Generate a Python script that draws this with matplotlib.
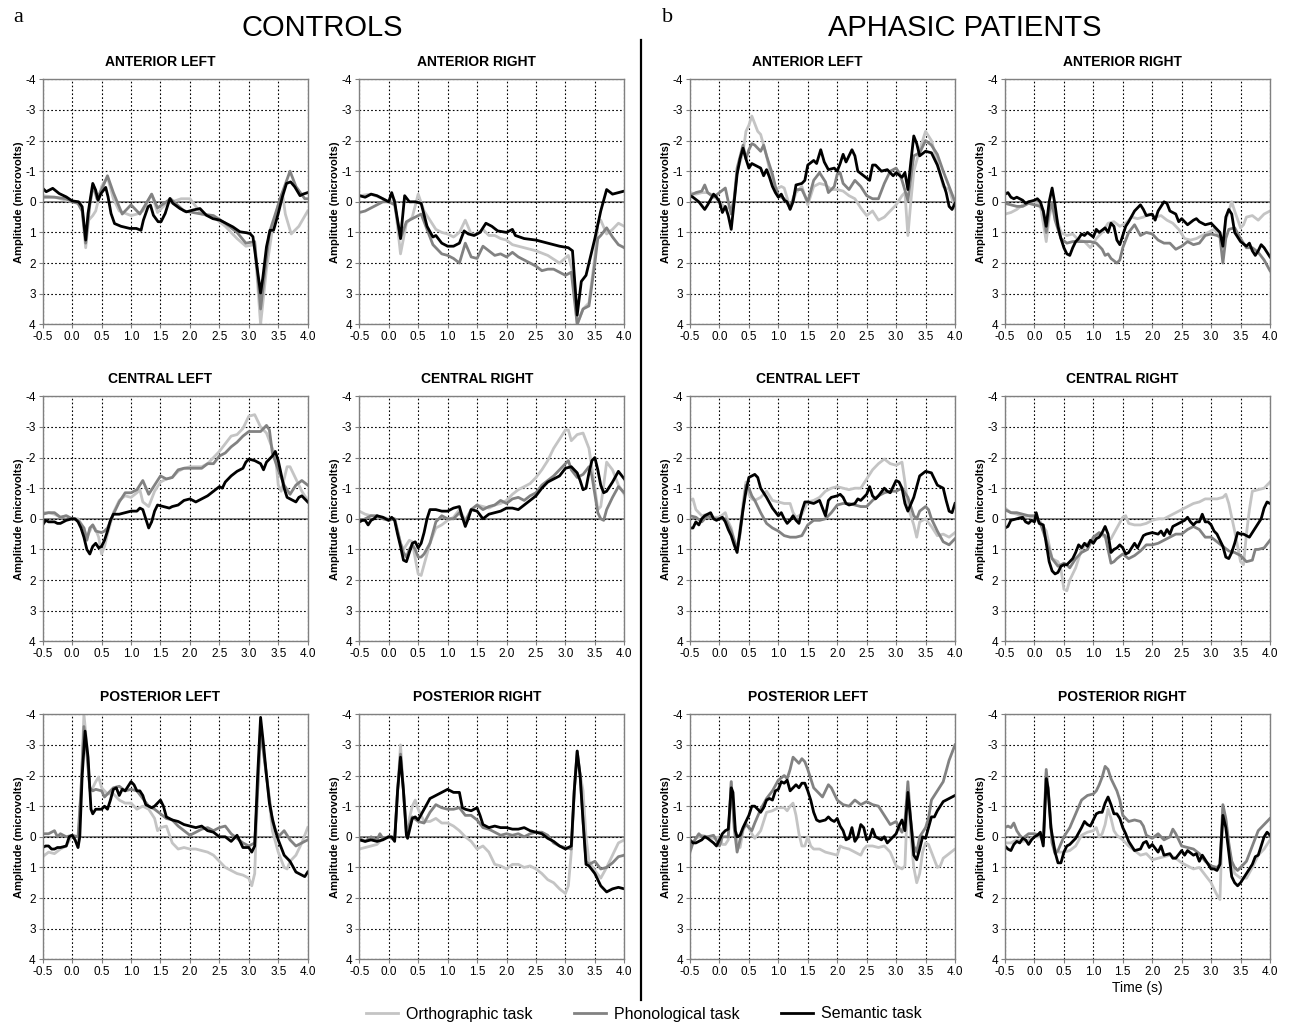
import matplotlib.pyplot as plt
from matplotlib.lines import Line2D

plt.rcParams['font.family'] = ['Liberation Sans', 'DejaVu Sans']

# --- data: (time s, amplitude uV) ---
# Controls, anterior left
c_al_orth = [(-0.5,-0.2),(-0.3,-0.15),(-0.1,-0.05),(0.0,0.0),(0.1,0.05),(0.17,0.3),(0.23,1.5),(0.28,0.6),(0.35,0.45),(0.4,0.3),(0.5,-0.5),(0.6,-0.8),(0.7,-0.1),(0.8,0.3),(1.0,0.45),(1.1,0.4),(1.2,0.3),(1.35,-0.25),(1.45,0.35),(1.6,0.05),(1.7,0.0),(1.85,-0.1),(2.0,-0.1),(2.2,0.4),(2.4,0.5),(2.6,0.8),(2.8,1.2),(2.95,1.45),(3.1,1.4),(3.2,4.0),(3.3,2.2),(3.4,0.9),(3.5,0.1),(3.57,-0.3),(3.62,0.4),(3.72,1.05),(3.85,0.8),(4.0,0.3)]
c_al_phon = [(-0.5,-0.15),(-0.3,-0.15),(-0.1,-0.1),(0.0,0.0),(0.1,0.05),(0.17,0.3),(0.23,1.35),(0.3,0.1),(0.36,-0.55),(0.42,-0.1),(0.5,-0.4),(0.6,-0.85),(0.7,-0.3),(0.85,0.4),(1.0,0.1),(1.15,0.4),(1.35,-0.25),(1.45,0.2),(1.6,0.0),(1.67,-0.1),(1.9,0.3),(2.2,0.4),(2.4,0.45),(2.6,0.7),(2.8,1.0),(2.95,1.35),(3.1,1.3),(3.2,3.5),(3.35,1.0),(3.55,-0.2),(3.7,-1.0),(3.8,-0.5),(3.95,-0.1),(4.0,-0.1)]
c_al_sem = [(-0.5,-0.44),(-0.44,-0.33),(-0.33,-0.44),(-0.22,-0.27),(-0.1,-0.16),(0.0,-0.03),(0.11,0.0),(0.17,0.16),(0.23,1.25),(0.27,0.38),(0.31,-0.11),(0.35,-0.6),(0.4,-0.38),(0.44,-0.05),(0.49,-0.27),(0.57,-0.47),(0.61,-0.16),(0.66,0.38),(0.72,0.71),(0.83,0.8),(0.98,0.87),(1.09,0.87),(1.17,0.93),(1.21,0.6),(1.29,0.16),(1.33,0.11),(1.38,0.44),(1.46,0.65),(1.51,0.65),(1.58,0.38),(1.66,-0.11),(1.71,0.05),(1.83,0.22),(1.94,0.33),(2.05,0.27),(2.17,0.22),(2.28,0.44),(2.39,0.55),(2.51,0.6),(2.62,0.71),(2.73,0.82),(2.85,0.98),(2.96,1.01),(3.02,1.04),(3.07,1.14),(3.13,2.0),(3.2,2.98),(3.24,2.45),(3.3,1.47),(3.36,0.93),(3.42,0.93),(3.5,0.38),(3.57,-0.16),(3.64,-0.6),(3.71,-0.65),(3.78,-0.49),(3.87,-0.2),(3.92,-0.25),(4.0,-0.3)]

# Controls, anterior right
c_ar_orth = [(-0.5,-0.2),(-0.3,-0.25),(-0.1,-0.1),(0.0,0.0),(0.1,-0.05),(0.2,1.7),(0.3,0.7),(0.4,0.5),(0.5,-0.25),(0.6,0.3),(0.7,0.6),(0.8,0.9),(0.9,1.0),(1.0,1.05),(1.1,1.15),(1.2,1.0),(1.3,0.6),(1.4,1.05),(1.5,1.05),(1.6,0.9),(1.7,1.1),(1.8,1.1),(1.9,1.2),(2.0,1.25),(2.1,1.4),(2.2,1.45),(2.3,1.5),(2.5,1.6),(2.7,1.75),(2.9,2.0),(3.05,1.75),(3.15,2.5),(3.2,4.0),(3.3,3.5),(3.4,3.3),(3.5,1.8),(3.55,0.7),(3.6,0.6),(3.7,1.05),(3.8,0.9),(3.9,0.7),(4.0,0.8)]
c_ar_phon = [(-0.5,0.35),(-0.4,0.3),(-0.3,0.2),(-0.2,0.1),(-0.1,0.0),(0.0,0.0),(0.1,0.1),(0.2,1.2),(0.3,0.65),(0.4,0.55),(0.5,0.45),(0.55,0.4),(0.65,0.9),(0.75,1.4),(0.9,1.7),(1.0,1.75),(1.1,1.85),(1.2,2.0),(1.3,1.35),(1.4,1.8),(1.5,1.85),(1.6,1.45),(1.7,1.6),(1.8,1.75),(1.9,1.7),(2.0,1.8),(2.1,1.65),(2.2,1.8),(2.4,2.0),(2.5,2.1),(2.6,2.25),(2.7,2.2),(2.8,2.2),(2.9,2.3),(3.0,2.4),(3.1,2.3),(3.2,4.0),(3.3,3.5),(3.4,3.4),(3.5,2.0),(3.55,1.2),(3.6,1.1),(3.7,0.85),(3.8,1.15),(3.9,1.4),(4.0,1.5)]
c_ar_sem = [(-0.5,-0.2),(-0.4,-0.15),(-0.3,-0.25),(-0.2,-0.2),(-0.1,-0.1),(0.0,0.0),(0.05,-0.3),(0.1,0.0),(0.2,1.2),(0.27,-0.2),(0.35,0.0),(0.45,0.0),(0.55,0.05),(0.65,0.8),(0.75,1.15),(0.8,1.1),(0.9,1.35),(1.0,1.45),(1.1,1.45),(1.2,1.35),(1.28,0.95),(1.35,1.05),(1.45,1.1),(1.55,1.0),(1.65,0.7),(1.75,0.8),(1.85,0.95),(2.0,1.0),(2.1,0.9),(2.15,1.1),(2.3,1.2),(2.5,1.25),(2.7,1.35),(2.9,1.45),(3.05,1.5),(3.12,1.6),(3.2,3.7),(3.27,2.6),(3.35,2.4),(3.5,1.2),(3.6,0.3),(3.7,-0.4),(3.8,-0.25),(3.9,-0.3),(4.0,-0.35)]

# Aphasic patients, anterior left
p_al_orth = [(-0.5,-0.3),(-0.4,-0.25),(-0.3,-0.3),(-0.2,-0.3),(-0.1,-0.2),(0.0,0.0),(0.1,0.2),(0.2,0.2),(0.25,0.0),(0.3,-1.0),(0.4,-1.6),(0.45,-2.3),(0.5,-2.5),(0.55,-2.8),(0.6,-2.55),(0.65,-2.3),(0.7,-2.2),(0.8,-1.5),(0.9,-0.6),(0.95,-0.4),(1.05,-0.5),(1.1,-0.45),(1.2,0.2),(1.25,0.0),(1.3,-0.3),(1.4,-0.5),(1.5,0.1),(1.6,-0.5),(1.7,-0.6),(1.8,-0.55),(1.9,-0.4),(2.0,-0.4),(2.1,-0.35),(2.2,-0.2),(2.3,-0.1),(2.4,0.2),(2.5,0.45),(2.6,0.3),(2.7,0.6),(2.8,0.5),(2.9,0.3),(3.0,0.1),(3.1,-0.2),(3.15,-0.3),(3.2,1.1),(3.25,0.0),(3.3,-1.0),(3.4,-1.7),(3.5,-2.3),(3.6,-2.0),(3.7,-1.3),(3.8,-0.5),(3.9,-0.4),(4.0,0.2)]
p_al_phon = [(-0.5,-0.2),(-0.4,-0.3),(-0.3,-0.35),(-0.25,-0.55),(-0.2,-0.3),(-0.1,-0.15),(0.0,-0.3),(0.1,-0.45),(0.15,0.0),(0.2,0.4),(0.25,-0.1),(0.3,-1.1),(0.4,-1.85),(0.45,-1.4),(0.5,-1.7),(0.55,-1.9),(0.6,-1.85),(0.7,-1.65),(0.75,-1.85),(0.8,-1.5),(0.9,-0.9),(0.95,-0.5),(1.0,-0.2),(1.1,-0.1),(1.2,0.2),(1.3,-0.4),(1.4,-0.4),(1.5,0.0),(1.6,-0.7),(1.7,-0.95),(1.8,-0.65),(1.85,-0.3),(1.95,-0.5),(2.0,-0.9),(2.05,-0.95),(2.1,-0.6),(2.2,-0.4),(2.3,-0.7),(2.4,-0.5),(2.5,-0.2),(2.6,-0.1),(2.7,-0.1),(2.8,-0.6),(2.9,-1.0),(3.0,-1.1),(3.05,-0.95),(3.1,-0.7),(3.2,-0.05),(3.25,-0.8),(3.3,-1.5),(3.4,-1.6),(3.5,-2.0),(3.6,-1.85),(3.7,-1.55),(3.8,-1.0),(3.9,-0.5),(4.0,0.0)]
p_al_sem = [(-0.5,-0.2),(-0.45,-0.15),(-0.35,0.0),(-0.25,0.25),(-0.2,0.1),(-0.1,-0.25),(-0.05,-0.15),(0.0,0.0),(0.05,0.35),(0.1,0.15),(0.15,0.45),(0.2,0.9),(0.25,0.0),(0.3,-0.9),(0.35,-1.4),(0.4,-1.75),(0.45,-1.4),(0.5,-1.1),(0.55,-1.25),(0.6,-1.2),(0.7,-1.1),(0.75,-0.85),(0.8,-1.05),(0.85,-0.8),(0.9,-0.5),(0.95,-0.3),(1.0,-0.15),(1.05,-0.25),(1.1,-0.05),(1.15,0.0),(1.2,0.25),(1.25,0.0),(1.3,-0.55),(1.4,-0.6),(1.45,-0.7),(1.5,-1.2),(1.6,-1.35),(1.65,-1.25),(1.72,-1.7),(1.78,-1.3),(1.85,-1.05),(1.95,-1.1),(2.0,-1.0),(2.05,-1.25),(2.1,-1.55),(2.15,-1.3),(2.25,-1.7),(2.3,-1.5),(2.35,-1.0),(2.45,-0.85),(2.55,-0.7),(2.6,-1.2),(2.65,-1.2),(2.75,-1.0),(2.85,-1.05),(2.95,-0.85),(3.0,-0.95),(3.1,-0.8),(3.15,-0.95),(3.2,-0.4),(3.25,-1.3),(3.3,-2.15),(3.35,-1.9),(3.4,-1.5),(3.5,-1.65),(3.6,-1.6),(3.7,-1.2),(3.8,-0.6),(3.85,-0.3),(3.9,0.15),(3.95,0.25),(4.0,0.05)]

# Aphasic patients, anterior right
p_ar_orth = [(-0.5,0.4),(-0.4,0.35),(-0.3,0.25),(-0.2,0.1),(-0.1,0.0),(0.0,0.0),(0.1,0.1),(0.2,1.3),(0.25,0.5),(0.3,0.1),(0.35,0.4),(0.45,1.0),(0.55,1.1),(0.65,1.05),(0.75,1.25),(0.85,1.3),(0.95,1.5),(1.05,1.2),(1.15,1.0),(1.25,0.7),(1.35,0.65),(1.45,0.8),(1.55,0.7),(1.65,0.5),(1.75,0.55),(1.85,0.5),(1.95,0.4),(2.05,0.5),(2.15,0.45),(2.25,0.6),(2.35,0.7),(2.45,0.9),(2.55,1.2),(2.65,1.25),(2.75,1.2),(2.85,1.1),(2.95,1.0),(3.05,0.9),(3.15,1.1),(3.2,1.5),(3.25,0.6),(3.3,0.3),(3.35,0.0),(3.4,0.3),(3.5,0.85),(3.55,0.75),(3.6,0.5),(3.7,0.45),(3.8,0.6),(3.9,0.4),(4.0,0.3)]
p_ar_phon = [(-0.5,0.05),(-0.4,0.1),(-0.3,0.15),(-0.2,0.15),(-0.1,0.05),(0.0,0.1),(0.1,0.15),(0.15,0.3),(0.2,1.0),(0.25,0.3),(0.3,0.05),(0.35,0.6),(0.45,1.2),(0.55,1.35),(0.65,1.3),(0.75,1.3),(0.85,1.3),(0.95,1.3),(1.05,1.35),(1.15,1.55),(1.2,1.75),(1.25,1.7),(1.3,1.85),(1.4,2.0),(1.45,1.9),(1.5,1.5),(1.6,1.0),(1.7,0.75),(1.8,1.1),(1.9,1.0),(2.0,1.05),(2.1,1.25),(2.2,1.35),(2.3,1.35),(2.4,1.55),(2.5,1.45),(2.6,1.3),(2.7,1.4),(2.8,1.35),(2.9,1.1),(3.0,1.05),(3.1,1.1),(3.15,1.15),(3.2,2.0),(3.25,1.2),(3.3,0.9),(3.4,0.85),(3.5,1.2),(3.6,1.5),(3.7,1.5),(3.8,1.65),(3.9,1.9),(4.0,2.25)]
p_ar_sem = [(-0.5,-0.25),(-0.45,-0.3),(-0.4,-0.15),(-0.35,-0.1),(-0.3,-0.15),(-0.2,-0.05),(-0.15,0.05),(-0.1,0.0),(0.0,-0.05),(0.05,-0.1),(0.1,0.0),(0.15,0.3),(0.2,0.8),(0.25,0.0),(0.3,-0.45),(0.35,0.1),(0.4,0.8),(0.45,1.2),(0.5,1.5),(0.55,1.7),(0.6,1.75),(0.65,1.5),(0.7,1.3),(0.75,1.2),(0.8,1.05),(0.85,1.1),(0.9,1.0),(1.0,1.15),(1.05,0.9),(1.1,1.0),(1.2,0.85),(1.25,1.0),(1.3,0.7),(1.35,0.8),(1.4,1.25),(1.45,1.4),(1.5,1.1),(1.55,0.8),(1.6,0.65),(1.7,0.3),(1.8,0.1),(1.85,0.25),(1.9,0.45),(2.0,0.4),(2.05,0.6),(2.1,0.3),(2.2,0.0),(2.25,0.05),(2.3,0.3),(2.4,0.4),(2.45,0.65),(2.5,0.55),(2.6,0.75),(2.7,0.6),(2.75,0.55),(2.8,0.65),(2.9,0.75),(3.0,0.7),(3.05,0.8),(3.1,0.9),(3.15,1.0),(3.2,1.45),(3.25,0.5),(3.3,0.25),(3.35,0.4),(3.4,1.0),(3.5,1.3),(3.6,1.45),(3.65,1.35),(3.7,1.6),(3.75,1.75),(3.8,1.6),(3.85,1.4),(3.9,1.5),(4.0,1.8)]

# Controls, central left
c_cl_orth = [(-0.5,-0.2),(-0.4,-0.2),(-0.3,-0.15),(-0.2,-0.05),(-0.1,-0.1),(0.0,0.0),(0.1,0.0),(0.2,0.3),(0.25,0.6),(0.3,0.4),(0.35,0.2),(0.4,0.35),(0.45,0.6),(0.5,1.15),(0.55,0.9),(0.6,0.5),(0.7,-0.2),(0.8,-0.6),(0.9,-0.75),(1.0,-0.7),(1.1,-0.85),(1.15,-0.95),(1.2,-0.55),(1.3,-0.4),(1.4,-0.9),(1.5,-1.2),(1.6,-1.3),(1.7,-1.35),(1.8,-1.55),(1.9,-1.65),(2.0,-1.7),(2.2,-1.7),(2.3,-1.8),(2.4,-2.0),(2.5,-2.2),(2.6,-2.45),(2.7,-2.7),(2.8,-2.75),(2.9,-2.95),(3.0,-3.35),(3.1,-3.4),(3.2,-3.0),(3.3,-2.8),(3.4,-2.3),(3.45,-2.1),(3.5,-1.1),(3.55,-0.9),(3.6,-1.3),(3.65,-1.7),(3.7,-1.7),(3.8,-1.3),(3.9,-0.9),(4.0,-0.6)]
c_cl_phon = [(-0.5,-0.15),(-0.4,-0.2),(-0.3,-0.2),(-0.2,-0.05),(-0.1,-0.1),(0.0,0.0),(0.1,0.05),(0.2,0.3),(0.25,0.7),(0.3,0.3),(0.35,0.2),(0.4,0.4),(0.5,0.45),(0.55,0.4),(0.6,0.3),(0.7,-0.15),(0.8,-0.55),(0.9,-0.85),(1.0,-0.85),(1.1,-0.95),(1.2,-1.25),(1.3,-0.8),(1.4,-1.1),(1.5,-1.4),(1.6,-1.3),(1.7,-1.35),(1.8,-1.6),(1.9,-1.65),(2.0,-1.65),(2.2,-1.65),(2.3,-1.8),(2.4,-1.8),(2.5,-2.05),(2.6,-2.15),(2.7,-2.35),(2.8,-2.5),(2.9,-2.7),(3.0,-2.85),(3.1,-2.85),(3.2,-2.85),(3.3,-3.05),(3.35,-2.9),(3.4,-2.15),(3.5,-1.6),(3.6,-1.1),(3.7,-0.8),(3.8,-1.1),(3.9,-1.25),(4.0,-1.1)]
c_cl_sem = [(-0.5,0.2),(-0.45,0.05),(-0.4,0.1),(-0.3,0.1),(-0.25,0.15),(-0.2,0.15),(-0.1,0.05),(0.0,0.0),(0.05,0.0),(0.1,0.1),(0.15,0.3),(0.2,0.6),(0.25,1.0),(0.3,1.15),(0.35,0.9),(0.4,0.8),(0.45,0.95),(0.5,0.9),(0.55,0.7),(0.6,0.4),(0.65,0.05),(0.7,-0.15),(0.8,-0.15),(0.9,-0.2),(1.0,-0.25),(1.1,-0.25),(1.15,-0.35),(1.2,-0.3),(1.25,0.0),(1.3,0.3),(1.35,0.1),(1.4,-0.25),(1.45,-0.45),(1.55,-0.4),(1.65,-0.35),(1.7,-0.4),(1.8,-0.45),(1.9,-0.6),(2.0,-0.65),(2.1,-0.55),(2.2,-0.65),(2.3,-0.75),(2.4,-0.9),(2.5,-1.05),(2.55,-1.0),(2.6,-1.2),(2.7,-1.4),(2.8,-1.55),(2.9,-1.65),(2.95,-1.85),(3.0,-1.95),(3.1,-1.9),(3.15,-1.85),(3.2,-1.8),(3.25,-1.6),(3.3,-1.85),(3.4,-2.05),(3.45,-2.2),(3.5,-1.9),(3.6,-1.0),(3.65,-0.7),(3.75,-0.6),(3.8,-0.55),(3.85,-0.7),(3.9,-0.75),(4.0,-0.55)]

# Controls, central right
c_cr_orth = [(-0.5,-0.25),(-0.4,-0.15),(-0.3,-0.1),(-0.2,-0.05),(-0.1,-0.05),(0.0,0.0),(0.1,0.0),(0.2,0.8),(0.25,1.0),(0.3,0.85),(0.35,0.7),(0.4,0.75),(0.45,1.3),(0.5,1.8),(0.55,1.85),(0.6,1.5),(0.7,0.8),(0.8,0.3),(0.9,0.2),(1.0,0.05),(1.1,-0.05),(1.2,-0.3),(1.3,0.05),(1.4,-0.3),(1.5,-0.45),(1.6,-0.4),(1.7,-0.35),(1.8,-0.45),(1.9,-0.5),(2.0,-0.6),(2.1,-0.8),(2.2,-0.95),(2.3,-1.05),(2.4,-1.15),(2.5,-1.35),(2.6,-1.6),(2.7,-1.9),(2.8,-2.3),(2.9,-2.6),(3.0,-2.9),(3.05,-2.9),(3.1,-2.55),(3.2,-2.75),(3.3,-2.8),(3.4,-2.3),(3.5,-1.0),(3.55,-0.3),(3.6,-0.4),(3.65,-1.1),(3.7,-1.85),(3.8,-1.6),(3.9,-1.1),(4.0,-0.8)]
c_cr_phon = [(-0.5,0.1),(-0.4,0.0),(-0.3,-0.1),(-0.2,-0.1),(-0.1,0.0),(0.0,0.05),(0.1,0.0),(0.2,0.8),(0.25,1.1),(0.3,1.25),(0.35,1.0),(0.4,0.85),(0.45,1.0),(0.5,1.25),(0.55,1.25),(0.6,1.15),(0.7,0.8),(0.8,0.1),(0.9,-0.1),(1.0,0.0),(1.1,0.0),(1.2,-0.2),(1.3,0.1),(1.4,-0.3),(1.5,-0.45),(1.6,-0.3),(1.7,-0.4),(1.8,-0.45),(1.9,-0.6),(2.0,-0.5),(2.1,-0.65),(2.2,-0.7),(2.3,-0.6),(2.4,-0.75),(2.5,-0.85),(2.6,-1.1),(2.7,-1.25),(2.8,-1.4),(2.9,-1.6),(3.0,-1.8),(3.05,-1.9),(3.1,-1.6),(3.2,-1.35),(3.3,-1.45),(3.4,-1.7),(3.45,-1.4),(3.5,-0.8),(3.55,-0.2),(3.6,0.0),(3.65,0.05),(3.7,-0.3),(3.8,-0.7),(3.9,-1.05),(4.0,-0.85)]
c_cr_sem = [(-0.5,0.1),(-0.45,0.05),(-0.4,0.05),(-0.35,0.2),(-0.3,0.05),(-0.25,0.0),(-0.2,-0.1),(-0.1,-0.05),(0.0,0.05),(0.05,-0.05),(0.1,0.05),(0.15,0.5),(0.2,0.9),(0.25,1.35),(0.3,1.4),(0.35,1.1),(0.4,0.8),(0.45,0.75),(0.5,0.95),(0.55,0.8),(0.6,0.45),(0.65,0.0),(0.7,-0.3),(0.8,-0.3),(0.9,-0.25),(1.0,-0.25),(1.1,-0.35),(1.2,-0.4),(1.25,-0.05),(1.3,0.25),(1.35,0.0),(1.4,-0.3),(1.5,-0.25),(1.6,0.0),(1.7,-0.15),(1.8,-0.2),(1.9,-0.25),(2.0,-0.35),(2.1,-0.35),(2.2,-0.3),(2.3,-0.45),(2.4,-0.6),(2.5,-0.75),(2.6,-1.0),(2.7,-1.2),(2.8,-1.3),(2.9,-1.4),(3.0,-1.65),(3.1,-1.7),(3.2,-1.5),(3.25,-1.25),(3.3,-0.95),(3.35,-1.0),(3.4,-1.5),(3.45,-1.9),(3.5,-2.0),(3.55,-1.6),(3.6,-1.1),(3.65,-0.85),(3.7,-0.9),(3.8,-1.2),(3.9,-1.55),(4.0,-1.3)]

# Aphasic patients, central left
p_cl_orth = [(-0.5,-0.6),(-0.45,-0.65),(-0.4,-0.3),(-0.3,-0.1),(-0.2,-0.15),(-0.1,-0.05),(0.0,-0.05),(0.1,-0.2),(0.15,0.1),(0.2,0.3),(0.25,0.7),(0.3,1.0),(0.35,0.3),(0.4,-0.5),(0.45,-1.2),(0.5,-0.8),(0.55,-0.65),(0.6,-0.6),(0.7,-0.7),(0.8,-0.9),(0.9,-0.6),(1.0,-0.55),(1.1,-0.5),(1.2,-0.5),(1.25,-0.2),(1.3,-0.05),(1.4,-0.15),(1.5,-0.55),(1.6,-0.6),(1.7,-0.7),(1.8,-0.9),(1.9,-1.0),(2.0,-1.05),(2.1,-1.0),(2.2,-0.95),(2.3,-1.0),(2.4,-1.0),(2.5,-1.3),(2.6,-1.6),(2.7,-1.8),(2.8,-1.95),(2.9,-1.8),(3.0,-1.75),(3.1,-1.85),(3.15,-1.2),(3.2,-0.4),(3.3,0.2),(3.35,0.6),(3.4,0.1),(3.5,0.0),(3.6,0.25),(3.7,0.55),(3.8,0.5),(3.9,0.6),(4.0,0.45)]
p_cl_phon = [(-0.5,-0.1),(-0.4,-0.05),(-0.3,0.1),(-0.2,-0.1),(-0.1,0.0),(0.0,0.0),(0.1,0.0),(0.2,0.4),(0.3,1.0),(0.35,0.5),(0.4,-0.3),(0.45,-1.1),(0.5,-1.0),(0.55,-0.75),(0.6,-0.6),(0.7,-0.2),(0.8,0.15),(0.9,0.3),(1.0,0.4),(1.1,0.55),(1.2,0.6),(1.3,0.6),(1.4,0.55),(1.5,0.2),(1.6,0.05),(1.7,0.05),(1.8,0.0),(1.9,-0.2),(2.0,-0.45),(2.1,-0.5),(2.2,-0.5),(2.3,-0.45),(2.4,-0.4),(2.5,-0.4),(2.6,-0.6),(2.7,-0.75),(2.8,-0.85),(2.9,-0.9),(3.0,-0.9),(3.1,-1.0),(3.2,-0.7),(3.3,-0.1),(3.35,0.0),(3.4,-0.25),(3.5,-0.4),(3.55,-0.3),(3.6,0.0),(3.7,0.4),(3.8,0.75),(3.9,0.85),(4.0,0.65)]
p_cl_sem = [(-0.5,0.3),(-0.45,0.3),(-0.4,0.1),(-0.35,0.2),(-0.3,0.0),(-0.25,-0.1),(-0.2,-0.15),(-0.15,-0.2),(-0.1,0.0),(-0.05,0.05),(0.0,0.0),(0.05,-0.05),(0.1,0.1),(0.15,0.35),(0.2,0.55),(0.25,0.85),(0.3,1.1),(0.35,0.4),(0.4,-0.3),(0.45,-0.9),(0.5,-1.35),(0.55,-1.4),(0.6,-1.45),(0.65,-1.35),(0.7,-1.0),(0.8,-0.7),(0.9,-0.35),(1.0,-0.1),(1.05,-0.2),(1.1,0.0),(1.15,0.15),(1.2,0.05),(1.25,-0.1),(1.3,0.05),(1.35,0.15),(1.4,-0.25),(1.45,-0.55),(1.5,-0.55),(1.6,-0.5),(1.7,-0.6),(1.75,-0.35),(1.8,-0.1),(1.85,-0.6),(1.9,-0.7),(2.0,-0.75),(2.05,-0.8),(2.1,-0.7),(2.15,-0.5),(2.2,-0.45),(2.3,-0.5),(2.35,-0.65),(2.4,-0.6),(2.5,-0.8),(2.55,-1.05),(2.6,-0.75),(2.65,-0.65),(2.7,-0.75),(2.8,-1.0),(2.85,-0.9),(2.9,-0.85),(3.0,-1.25),(3.05,-1.2),(3.1,-1.0),(3.15,-0.5),(3.2,-0.25),(3.3,-0.7),(3.4,-1.4),(3.5,-1.55),(3.6,-1.5),(3.7,-1.1),(3.8,-1.0),(3.85,-0.6),(3.9,-0.25),(3.95,-0.2),(4.0,-0.5)]

# Aphasic patients, central right
p_cr_orth = [(-0.5,-0.35),(-0.4,-0.2),(-0.3,-0.15),(-0.2,-0.05),(-0.1,-0.1),(0.0,0.0),(0.1,0.1),(0.2,0.4),(0.3,1.3),(0.4,1.4),(0.45,1.65),(0.5,2.3),(0.55,2.35),(0.6,2.0),(0.7,1.6),(0.8,1.0),(0.9,0.8),(1.0,0.7),(1.1,0.5),(1.2,0.6),(1.3,0.65),(1.4,0.3),(1.5,-0.05),(1.55,-0.1),(1.6,0.15),(1.7,0.2),(1.8,0.2),(1.9,0.15),(2.0,0.05),(2.1,0.0),(2.2,0.0),(2.3,-0.1),(2.4,-0.2),(2.5,-0.3),(2.6,-0.4),(2.7,-0.5),(2.8,-0.55),(2.9,-0.65),(3.0,-0.65),(3.1,-0.65),(3.2,-0.7),(3.25,-0.8),(3.3,-0.5),(3.4,0.4),(3.5,1.4),(3.55,1.5),(3.6,0.5),(3.65,-0.3),(3.7,-0.9),(3.8,-0.95),(3.9,-1.0),(4.0,-1.2)]
p_cr_phon = [(-0.5,-0.3),(-0.4,-0.2),(-0.3,-0.2),(-0.2,-0.15),(-0.1,-0.1),(0.0,-0.1),(0.1,0.15),(0.2,0.7),(0.3,1.3),(0.4,1.55),(0.5,1.45),(0.55,1.5),(0.6,1.6),(0.7,1.3),(0.8,1.1),(0.9,1.0),(1.0,0.6),(1.1,0.45),(1.2,0.55),(1.3,1.45),(1.35,1.4),(1.4,1.3),(1.5,1.15),(1.6,1.3),(1.7,1.2),(1.8,1.05),(1.9,0.85),(2.0,0.85),(2.1,0.8),(2.2,0.7),(2.3,0.6),(2.4,0.5),(2.5,0.5),(2.6,0.35),(2.7,0.25),(2.8,0.35),(2.9,0.6),(3.0,0.6),(3.1,0.75),(3.2,0.9),(3.3,1.05),(3.4,1.1),(3.5,1.2),(3.6,1.4),(3.7,1.35),(3.75,1.0),(3.8,1.0),(3.9,0.95),(4.0,0.7)]
p_cr_sem = [(-0.5,0.3),(-0.45,0.25),(-0.4,0.05),(-0.3,0.0),(-0.2,-0.05),(-0.15,0.1),(-0.1,0.15),(-0.05,0.05),(0.0,0.1),(0.03,-0.2),(0.08,0.15),(0.15,0.2),(0.2,0.8),(0.25,1.4),(0.3,1.7),(0.35,1.8),(0.4,1.75),(0.45,1.55),(0.5,1.5),(0.55,1.5),(0.6,1.4),(0.65,1.3),(0.7,1.1),(0.75,0.85),(0.8,0.95),(0.85,0.8),(0.9,0.9),(0.95,0.7),(1.0,0.8),(1.05,0.65),(1.1,0.6),(1.15,0.45),(1.2,0.25),(1.25,0.5),(1.3,1.1),(1.35,1.0),(1.4,0.95),(1.45,0.85),(1.5,0.95),(1.55,1.15),(1.6,1.1),(1.65,0.95),(1.7,0.8),(1.75,0.95),(1.8,0.75),(1.85,0.55),(1.9,0.5),(2.0,0.45),(2.1,0.5),(2.15,0.4),(2.2,0.55),(2.25,0.35),(2.3,0.5),(2.35,0.25),(2.4,0.2),(2.5,0.1),(2.55,0.05),(2.6,-0.05),(2.65,0.1),(2.7,0.2),(2.75,0.1),(2.8,0.1),(2.85,-0.15),(2.9,0.1),(2.95,0.1),(3.0,0.2),(3.05,0.4),(3.1,0.5),(3.15,0.7),(3.2,0.9),(3.25,1.25),(3.3,1.3),(3.35,1.1),(3.4,0.8),(3.45,0.45),(3.5,0.5),(3.55,0.5),(3.6,0.55),(3.65,0.6),(3.7,0.45),(3.75,0.3),(3.8,0.15),(3.85,0.0),(3.9,-0.35),(3.95,-0.55),(4.0,-0.5)]

# Controls, posterior left
c_pl_orth = [(-0.5,0.65),(-0.4,0.5),(-0.3,0.55),(-0.2,0.4),(-0.1,0.3),(0.0,-0.05),(0.05,0.1),(0.1,0.35),(0.15,-1.5),(0.2,-4.0),(0.25,-3.0),(0.3,-1.5),(0.35,-1.6),(0.4,-1.8),(0.45,-1.95),(0.5,-1.6),(0.6,-1.4),(0.7,-1.4),(0.8,-1.2),(0.9,-1.1),(1.0,-1.1),(1.1,-0.9),(1.2,-1.0),(1.3,-0.9),(1.4,-0.6),(1.45,-0.2),(1.5,-0.3),(1.6,-0.35),(1.7,0.2),(1.8,0.4),(1.9,0.35),(2.0,0.4),(2.1,0.4),(2.2,0.45),(2.3,0.5),(2.4,0.6),(2.5,0.8),(2.6,1.0),(2.7,1.1),(2.8,1.2),(2.9,1.25),(3.0,1.35),(3.05,1.6),(3.1,1.2),(3.15,-1.5),(3.2,-3.5),(3.3,-2.0),(3.4,-0.2),(3.5,0.5),(3.6,1.0),(3.65,1.05),(3.7,0.8),(3.8,0.6),(3.9,0.2),(4.0,-0.3)]
c_pl_phon = [(-0.5,-0.1),(-0.4,-0.1),(-0.3,-0.2),(-0.25,0.0),(-0.2,-0.1),(-0.1,0.0),(0.0,-0.05),(0.1,0.0),(0.15,-1.5),(0.2,-3.6),(0.25,-2.7),(0.3,-1.6),(0.35,-1.5),(0.4,-1.55),(0.5,-1.5),(0.55,-1.3),(0.6,-1.4),(0.7,-1.6),(0.8,-1.65),(0.9,-1.5),(1.0,-1.55),(1.1,-1.5),(1.2,-1.25),(1.3,-1.0),(1.4,-0.9),(1.5,-0.75),(1.6,-0.6),(1.7,-0.55),(1.8,-0.35),(1.9,-0.2),(2.0,-0.05),(2.1,-0.15),(2.2,-0.25),(2.3,-0.3),(2.4,-0.2),(2.5,-0.3),(2.6,-0.35),(2.7,-0.1),(2.8,0.05),(2.9,0.2),(3.0,0.3),(3.1,0.2),(3.15,-1.5),(3.2,-3.5),(3.3,-2.0),(3.4,-0.5),(3.5,0.0),(3.55,-0.1),(3.6,-0.2),(3.7,0.1),(3.8,0.3),(3.9,0.2),(4.0,0.1)]
c_pl_sem = [(-0.5,0.35),(-0.45,0.3),(-0.4,0.3),(-0.35,0.4),(-0.3,0.4),(-0.25,0.35),(-0.2,0.35),(-0.1,0.3),(-0.05,0.0),(0.0,-0.05),(0.05,0.1),(0.1,0.35),(0.13,0.0),(0.17,-2.0),(0.22,-3.45),(0.27,-2.6),(0.32,-0.9),(0.35,-0.75),(0.4,-0.9),(0.5,-0.9),(0.55,-1.0),(0.6,-0.9),(0.65,-1.2),(0.7,-1.55),(0.75,-1.6),(0.8,-1.35),(0.85,-1.55),(0.9,-1.5),(0.95,-1.65),(1.0,-1.8),(1.05,-1.7),(1.1,-1.5),(1.15,-1.5),(1.2,-1.35),(1.25,-1.05),(1.3,-1.0),(1.35,-0.95),(1.4,-1.0),(1.5,-1.2),(1.55,-1.0),(1.6,-0.65),(1.7,-0.55),(1.8,-0.5),(1.9,-0.4),(2.0,-0.35),(2.1,-0.3),(2.2,-0.35),(2.3,-0.2),(2.4,-0.15),(2.5,0.0),(2.6,0.0),(2.7,0.15),(2.8,-0.05),(2.9,0.35),(3.0,0.35),(3.05,0.5),(3.1,0.3),(3.15,-2.0),(3.2,-3.9),(3.25,-3.0),(3.3,-2.0),(3.35,-1.1),(3.4,-0.6),(3.45,-0.2),(3.5,0.1),(3.6,0.6),(3.7,0.8),(3.8,1.15),(3.9,1.25),(3.95,1.3),(4.0,1.15)]

# Controls, posterior right
c_pr_orth = [(-0.5,0.4),(-0.4,0.35),(-0.3,0.3),(-0.2,0.25),(-0.1,0.05),(0.0,0.0),(0.1,0.1),(0.15,-1.5),(0.2,-3.0),(0.25,-1.5),(0.3,-0.2),(0.35,-0.6),(0.4,-1.0),(0.45,-1.2),(0.5,-0.9),(0.6,-0.5),(0.7,-0.5),(0.8,-0.6),(0.9,-0.45),(1.0,-0.45),(1.1,-0.35),(1.2,-0.2),(1.3,0.0),(1.4,0.15),(1.5,0.4),(1.6,0.3),(1.7,0.5),(1.8,0.9),(1.9,0.95),(2.0,1.05),(2.1,0.9),(2.2,0.9),(2.3,1.0),(2.4,0.95),(2.5,1.05),(2.6,1.2),(2.7,1.4),(2.8,1.5),(2.9,1.7),(3.0,1.85),(3.05,1.6),(3.1,0.5),(3.15,-1.5),(3.2,-2.6),(3.3,-1.5),(3.35,0.0),(3.4,0.8),(3.5,1.1),(3.6,1.35),(3.7,1.0),(3.8,0.6),(3.9,0.2),(4.0,0.1)]
c_pr_phon = [(-0.5,0.05),(-0.4,0.15),(-0.3,0.0),(-0.2,0.1),(-0.15,-0.1),(-0.1,0.05),(0.0,0.0),(0.1,0.1),(0.15,-1.5),(0.2,-2.7),(0.25,-1.5),(0.3,-0.1),(0.35,-0.4),(0.4,-0.65),(0.5,-0.5),(0.6,-0.45),(0.7,-0.8),(0.8,-1.05),(0.9,-0.95),(1.0,-0.9),(1.1,-0.9),(1.2,-0.95),(1.3,-0.7),(1.4,-0.7),(1.5,-0.55),(1.6,-0.3),(1.7,-0.25),(1.8,-0.15),(1.9,-0.05),(2.0,-0.1),(2.1,-0.05),(2.2,-0.1),(2.3,0.0),(2.4,-0.1),(2.5,-0.15),(2.6,-0.15),(2.7,-0.05),(2.8,0.2),(2.9,0.3),(3.0,0.35),(3.1,0.4),(3.15,-1.5),(3.2,-2.8),(3.25,-2.0),(3.3,-0.5),(3.35,0.8),(3.4,0.9),(3.5,0.8),(3.6,1.05),(3.7,1.0),(3.8,0.85),(3.9,0.65),(4.0,0.6)]
c_pr_sem = [(-0.5,0.1),(-0.4,0.15),(-0.3,0.1),(-0.2,0.15),(-0.1,0.1),(0.0,0.0),(0.05,0.0),(0.1,0.15),(0.15,-1.5),(0.2,-2.6),(0.25,-1.5),(0.3,-0.05),(0.32,0.05),(0.4,-0.6),(0.45,-0.65),(0.5,-0.55),(0.6,-0.9),(0.7,-1.25),(0.8,-1.35),(0.9,-1.45),(1.0,-1.55),(1.1,-1.45),(1.2,-1.45),(1.25,-0.95),(1.3,-0.9),(1.4,-0.85),(1.5,-0.95),(1.55,-0.7),(1.6,-0.4),(1.7,-0.3),(1.8,-0.35),(1.9,-0.3),(2.0,-0.3),(2.1,-0.25),(2.2,-0.25),(2.3,-0.3),(2.4,-0.2),(2.5,-0.15),(2.6,-0.1),(2.7,0.05),(2.8,0.15),(2.9,0.3),(3.0,0.4),(3.1,0.3),(3.15,-1.5),(3.2,-2.8),(3.25,-2.0),(3.3,-0.5),(3.35,0.9),(3.4,0.95),(3.5,1.2),(3.6,1.6),(3.7,1.8),(3.8,1.7),(3.9,1.65),(4.0,1.7)]

# Aphasic patients, posterior left
p_pl_orth = [(-0.5,0.4),(-0.45,0.2),(-0.4,0.05),(-0.3,-0.05),(-0.2,0.0),(-0.1,0.05),(0.0,0.0),(0.05,0.25),(0.1,0.25),(0.15,0.1),(0.2,-1.8),(0.25,-0.5),(0.3,0.2),(0.35,0.35),(0.4,-0.2),(0.45,-0.45),(0.5,-0.3),(0.55,-0.1),(0.6,0.05),(0.7,-0.2),(0.8,-0.8),(0.9,-0.85),(1.0,-0.95),(1.1,-0.95),(1.15,-0.85),(1.2,-1.0),(1.25,-1.1),(1.3,-0.7),(1.35,-0.1),(1.4,0.3),(1.45,0.3),(1.5,0.0),(1.55,0.3),(1.6,0.4),(1.7,0.4),(1.8,0.5),(1.9,0.55),(2.0,0.6),(2.05,0.3),(2.1,0.35),(2.2,0.4),(2.3,0.5),(2.4,0.6),(2.45,0.4),(2.5,0.3),(2.6,0.3),(2.7,0.35),(2.8,0.3),(2.9,0.5),(3.0,0.95),(3.1,1.05),(3.15,0.95),(3.2,-1.5),(3.25,0.0),(3.3,1.0),(3.35,1.5),(3.4,1.2),(3.45,0.5),(3.5,0.2),(3.55,0.25),(3.6,0.5),(3.7,1.0),(3.75,0.95),(3.8,0.7),(3.9,0.55),(4.0,0.4)]
p_pl_phon = [(-0.5,0.5),(-0.45,0.2),(-0.4,0.05),(-0.35,-0.1),(-0.3,0.0),(-0.2,0.0),(-0.1,-0.05),(0.0,0.3),(0.05,0.0),(0.1,0.0),(0.15,0.0),(0.2,-1.8),(0.25,-0.3),(0.3,0.5),(0.35,0.1),(0.4,-0.25),(0.45,-0.4),(0.5,-0.3),(0.55,-0.2),(0.6,-0.45),(0.7,-0.9),(0.8,-1.25),(0.9,-1.5),(1.0,-1.85),(1.1,-2.0),(1.15,-1.9),(1.2,-2.2),(1.25,-2.6),(1.3,-2.5),(1.35,-2.4),(1.4,-2.55),(1.45,-2.45),(1.5,-2.2),(1.6,-1.6),(1.7,-1.4),(1.75,-1.3),(1.8,-1.5),(1.85,-1.7),(1.9,-1.6),(2.0,-1.2),(2.1,-1.05),(2.2,-1.0),(2.3,-1.2),(2.4,-1.05),(2.5,-1.15),(2.6,-1.05),(2.7,-1.0),(2.8,-0.7),(2.9,-0.4),(3.0,-0.5),(3.05,-0.3),(3.1,-0.15),(3.15,-0.5),(3.2,-1.8),(3.25,-0.5),(3.3,0.3),(3.35,0.5),(3.4,0.0),(3.5,-0.3),(3.55,-0.6),(3.6,-1.2),(3.7,-1.5),(3.8,-1.8),(3.9,-2.5),(4.0,-3.0)]
p_pl_sem = [(-0.5,0.1),(-0.45,0.2),(-0.4,0.2),(-0.3,0.1),(-0.25,0.0),(-0.2,0.05),(-0.1,0.2),(-0.05,0.3),(0.0,0.1),(0.05,-0.1),(0.1,-0.2),(0.15,-0.25),(0.2,-1.6),(0.23,-1.45),(0.27,-0.2),(0.3,0.0),(0.35,-0.05),(0.4,-0.3),(0.5,-0.7),(0.55,-1.0),(0.6,-1.0),(0.7,-0.8),(0.75,-0.95),(0.8,-1.2),(0.85,-1.25),(0.9,-1.2),(0.95,-1.5),(1.0,-1.55),(1.05,-1.8),(1.1,-1.75),(1.15,-1.85),(1.2,-1.5),(1.25,-1.6),(1.3,-1.7),(1.35,-1.6),(1.4,-1.75),(1.45,-1.75),(1.5,-1.5),(1.55,-1.2),(1.6,-0.8),(1.65,-0.55),(1.7,-0.5),(1.8,-0.55),(1.85,-0.65),(1.9,-0.55),(1.95,-0.5),(2.0,-0.6),(2.05,-0.35),(2.1,-0.2),(2.15,0.1),(2.2,0.05),(2.25,-0.3),(2.3,0.15),(2.35,0.0),(2.4,-0.4),(2.45,-0.3),(2.5,0.1),(2.55,0.05),(2.6,-0.25),(2.65,0.0),(2.7,0.05),(2.75,0.1),(2.8,0.0),(2.85,0.2),(2.9,0.1),(3.0,-0.1),(3.05,-0.35),(3.1,-0.55),(3.15,-0.2),(3.2,-1.45),(3.25,-0.5),(3.3,0.6),(3.35,0.75),(3.4,0.4),(3.45,0.0),(3.5,0.05),(3.55,-0.3),(3.6,-0.65),(3.65,-0.65),(3.7,-0.85),(3.8,-1.15),(3.9,-1.25),(4.0,-1.35)]

# Aphasic patients, posterior right
p_pr_orth = [(-0.5,0.2),(-0.4,0.2),(-0.3,0.1),(-0.2,0.15),(-0.1,0.1),(0.0,0.0),(0.1,0.0),(0.15,0.1),(0.2,-2.1),(0.25,-1.0),(0.3,0.2),(0.35,0.4),(0.4,0.5),(0.5,0.5),(0.6,0.45),(0.7,0.3),(0.8,-0.05),(0.9,-0.15),(1.0,-0.2),(1.05,-0.3),(1.1,0.0),(1.15,-0.1),(1.2,-0.4),(1.25,-0.9),(1.3,-0.6),(1.35,-0.2),(1.4,-0.05),(1.5,0.1),(1.6,0.3),(1.7,0.45),(1.8,0.6),(1.9,0.55),(2.0,0.75),(2.1,0.7),(2.2,0.65),(2.3,0.6),(2.4,0.7),(2.5,0.85),(2.6,0.95),(2.7,1.05),(2.8,1.0),(2.9,1.25),(3.0,1.5),(3.1,1.9),(3.15,2.05),(3.2,-0.9),(3.25,-0.5),(3.3,0.4),(3.4,1.2),(3.5,1.35),(3.6,1.35),(3.7,1.0),(3.8,0.6),(3.9,0.4),(4.0,0.1)]
p_pr_phon = [(-0.5,-0.3),(-0.45,-0.35),(-0.4,-0.3),(-0.35,-0.45),(-0.3,-0.2),(-0.25,-0.05),(-0.2,0.05),(-0.1,-0.1),(0.0,-0.1),(0.1,-0.05),(0.15,0.2),(0.2,-2.2),(0.25,-1.2),(0.3,0.2),(0.35,0.55),(0.4,0.45),(0.5,0.0),(0.6,-0.3),(0.7,-0.75),(0.8,-1.2),(0.9,-1.35),(1.0,-1.4),(1.05,-1.5),(1.1,-1.7),(1.15,-1.95),(1.2,-2.3),(1.25,-2.2),(1.3,-1.9),(1.35,-1.7),(1.4,-1.5),(1.45,-1.2),(1.5,-0.7),(1.6,-0.5),(1.7,-0.55),(1.8,-0.5),(1.85,-0.35),(1.9,-0.05),(2.0,0.05),(2.1,-0.1),(2.2,0.1),(2.3,0.0),(2.35,-0.25),(2.4,-0.1),(2.5,0.3),(2.6,0.35),(2.7,0.4),(2.8,0.55),(2.9,0.8),(3.0,0.95),(3.1,1.0),(3.15,0.9),(3.2,-1.05),(3.25,-0.6),(3.3,0.2),(3.35,0.8),(3.4,1.0),(3.45,1.1),(3.5,1.0),(3.6,0.8),(3.7,0.3),(3.8,-0.2),(3.9,-0.4),(4.0,-0.6)]
p_pr_sem = [(-0.5,0.3),(-0.45,0.4),(-0.4,0.45),(-0.35,0.25),(-0.3,0.15),(-0.25,0.2),(-0.2,0.05),(-0.15,0.1),(-0.1,0.25),(-0.05,0.1),(0.0,0.0),(0.05,-0.05),(0.1,-0.15),(0.15,0.3),(0.2,-1.9),(0.23,-1.6),(0.28,-0.3),(0.35,0.5),(0.4,0.85),(0.45,0.85),(0.5,0.5),(0.55,0.3),(0.6,0.25),(0.7,0.05),(0.8,-0.3),(0.85,-0.5),(0.9,-0.4),(0.95,-0.35),(1.0,-0.55),(1.05,-0.75),(1.1,-0.8),(1.15,-0.8),(1.2,-1.1),(1.25,-1.3),(1.3,-1.05),(1.35,-0.75),(1.4,-0.75),(1.45,-0.6),(1.5,-0.3),(1.55,-0.1),(1.6,0.15),(1.65,0.3),(1.7,0.45),(1.8,0.4),(1.85,0.2),(1.9,0.15),(1.95,0.35),(2.0,0.25),(2.1,0.5),(2.15,0.3),(2.2,0.6),(2.3,0.55),(2.35,0.7),(2.4,0.7),(2.5,0.45),(2.55,0.6),(2.6,0.45),(2.7,0.6),(2.75,0.55),(2.8,0.8),(2.85,0.6),(2.9,0.75),(3.0,1.05),(3.05,1.05),(3.1,1.1),(3.15,0.9),(3.2,-0.7),(3.25,-0.3),(3.3,0.5),(3.35,1.3),(3.4,1.5),(3.45,1.6),(3.5,1.5),(3.6,1.2),(3.7,0.9),(3.75,0.65),(3.8,0.6),(3.85,0.3),(3.9,0.0),(3.95,-0.15),(4.0,-0.05)]

panel_titles = ["ANTERIOR LEFT", "ANTERIOR RIGHT", "CENTRAL LEFT", "CENTRAL RIGHT",
                "POSTERIOR LEFT", "POSTERIOR RIGHT"]
task_names = ["Orthographic task", "Phonological task", "Semantic task"]
x_ticks = [-0.5, 0.0, 0.5, 1.0, 1.5, 2.0, 2.5, 3.0, 3.5, 4.0]
y_ticks = [-4, -3, -2, -1, 0, 1, 2, 3, 4]

# (row, col, title index, orth, phon, sem)
panels = [
    (0, 0, 0, c_al_orth, c_al_phon, c_al_sem),
    (0, 1, 1, c_ar_orth, c_ar_phon, c_ar_sem),
    (0, 2, 0, p_al_orth, p_al_phon, p_al_sem),
    (0, 3, 1, p_ar_orth, p_ar_phon, p_ar_sem),
    (1, 0, 2, c_cl_orth, c_cl_phon, c_cl_sem),
    (1, 1, 3, c_cr_orth, c_cr_phon, c_cr_sem),
    (1, 2, 2, p_cl_orth, p_cl_phon, p_cl_sem),
    (1, 3, 3, p_cr_orth, p_cr_phon, p_cr_sem),
    (2, 0, 4, c_pl_orth, c_pl_phon, c_pl_sem),
    (2, 1, 5, c_pr_orth, c_pr_phon, c_pr_sem),
    (2, 2, 4, p_pl_orth, p_pl_phon, p_pl_sem),
    (2, 3, 5, p_pr_orth, p_pr_phon, p_pr_sem),
]

colors = ["#c4c4c4", "#828282", "#000000"]

W, H = 1289, 1025
fig = plt.figure(figsize=(W / 100, H / 100), dpi=100)

col_left = [42.7, 359.3, 690.0, 1005.0]
row_top = [79.3, 396.3, 714.3]
ax_w, ax_h = 265.0, 245.0

for r, c, ti, orth, phon, sem in panels:
    ax = fig.add_axes([col_left[c] / W, 1 - (row_top[r] + ax_h) / H, ax_w / W, ax_h / H])
    ax.axhline(0, color="#606060", lw=1.1, zorder=1)
    for series, col in zip((orth, phon, sem), colors):
        t, v = zip(*series)
        ax.plot(t, v, color=col, lw=2.0, solid_joinstyle="round", zorder=2)
    ax.set_xlim(-0.5, 4.0)
    ax.set_ylim(4, -4)
    ax.set_xticks(x_ticks)
    ax.set_xticklabels(["%.1f" % x for x in x_ticks])
    ax.set_yticks(y_ticks)
    ax.set_yticklabels([str(y) for y in y_ticks])
    ax.grid(True, color="black", ls=(0, (1.5, 2.0)), lw=0.8, zorder=0)
    ax.tick_params(labelsize=8.5, length=3, width=0.8, color="#808080", pad=2)
    for s in ax.spines.values():
        s.set_color("#808080")
        s.set_linewidth(1.0)
    ax.set_ylabel("Amplitude (microvolts)", fontsize=8, fontweight="bold", labelpad=1)
    # panel title, centred a little left of the plot area
    fig.text((col_left[c] + ax_w / 2 - 15) / W, 1 - (row_top[r] - 10) / H,
             panel_titles[ti], ha="center", va="bottom", fontsize=10, fontweight="bold")
    if r == 2 and c == 3:
        ax.set_xlabel("Time (s)", fontsize=10, labelpad=2)

# group headings
fig.text(322 / W, 1 - 28 / H, "CONTROLS", ha="center", va="center", fontsize=21)
fig.text(965 / W, 1 - 28 / H, "APHASIC PATIENTS", ha="center", va="center", fontsize=21)
fig.text(18 / W, 1 - 18 / H, "a", ha="center", va="center", fontsize=16, family="Liberation Serif")
fig.text(668 / W, 1 - 18 / H, "b", ha="center", va="center", fontsize=16, family="Liberation Serif")
fig.add_artist(Line2D([641 / W, 641 / W], [1 - 40 / H, 1 - 1000 / H], color="black", lw=1.6))

handles = [Line2D([], [], color=col, lw=2.0) for col in colors]
fig.legend(handles, task_names, loc="center", bbox_to_anchor=(644 / W, 1 - 1014 / H), ncol=3,
           frameon=False, fontsize=11.5, handlelength=2.0, columnspacing=2.6, handletextpad=0.5)

fig.savefig("out.png", dpi=100)
